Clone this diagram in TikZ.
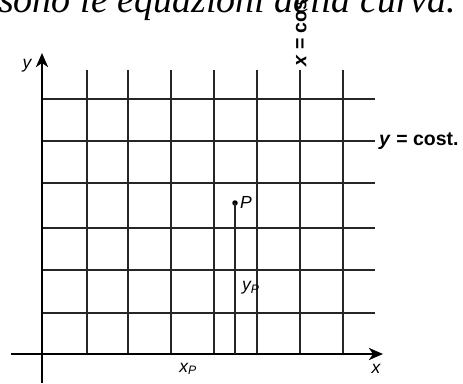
\documentclass[tikz,border=0pt]{standalone}
\usepackage{fontspec}
\newfontfamily\labelfont{Liberation Sans}
\newfontfamily\pagefont{Liberation Serif}
\usepackage{tikz}
\usetikzlibrary{arrows.meta}

\begin{document}
\begin{tikzpicture}[x=1pt,y=-1pt,
  gridline/.style={line width=1.2pt,black!85},
  axis/.style={line width=2.6pt,-{Stealth[length=14pt,width=12pt,inset=4pt]}},
  varlabel/.style={inner sep=0pt,font=\labelfont\fontsize{17.5}{20}\selectfont\itshape},
  costlabel/.style={inner sep=0pt,font=\labelfont\fontsize{19.5}{22}\selectfont\bfseries}]
\useasboundingbox (0,0) rectangle (463,383);
% axes
\coordinate (O) at (42,354);
\coordinate (ybot) at (42,383);
\coordinate (ytop) at (42,53);
\coordinate (xleft) at (11,354);
\coordinate (xright) at (383,354);
% grid, vertical lines
\draw[gridline] (87,354) -- (87,70);
\draw[gridline] (128,354) -- (128,70);
\draw[gridline] (171,354) -- (171,70);
\draw[gridline] (214,354) -- (214,70);
\draw[gridline] (257,354) -- (257,70);
\draw[gridline] (300,354) -- (300,70);
\draw[gridline] (343,354) -- (343,70);
% grid, horizontal lines
\draw[gridline] (42,99) -- (375,99);
\draw[gridline] (42,141) -- (375,141);
\draw[gridline] (42,183) -- (375,183);
\draw[gridline] (42,228) -- (375,228);
\draw[gridline] (42,270) -- (375,270);
\draw[gridline] (42,313) -- (375,313);
\draw[axis] (xleft) -- (xright);
\draw[axis] (ybot) -- (ytop);
% point P
\node[circle,fill=black,inner sep=0pt,minimum size=5.5pt] (P) at (235,203) {};
\coordinate (Pfoot) at (235,354);
\draw[gridline] (P.center) -- (Pfoot);
\node[varlabel,anchor=south west] (Plabel) at (240,209) {P};
\node[varlabel,anchor=west] (yP) at (242,288) {y\textsubscript{P}};
\node[varlabel] (xP) at (188,369) {x\textsubscript{P}};
\node[varlabel] (xlab) at (376,369) {x};
\node[varlabel] (ylab) at (27,66) {y};
% curve labels
\node[costlabel,anchor=west] (ycost) at (379,141) {\textit{y} = cost.};
\node[costlabel,anchor=west,rotate=90] (xcost) at (300,67) {\textit{x} = cost.};
% text of the page above
\node[anchor=base west,inner sep=0pt,font=\pagefont\fontsize{38}{44}\selectfont\itshape] (title) at (-1,12) {sono le equazioni della curva.};
\end{tikzpicture}
\end{document}
